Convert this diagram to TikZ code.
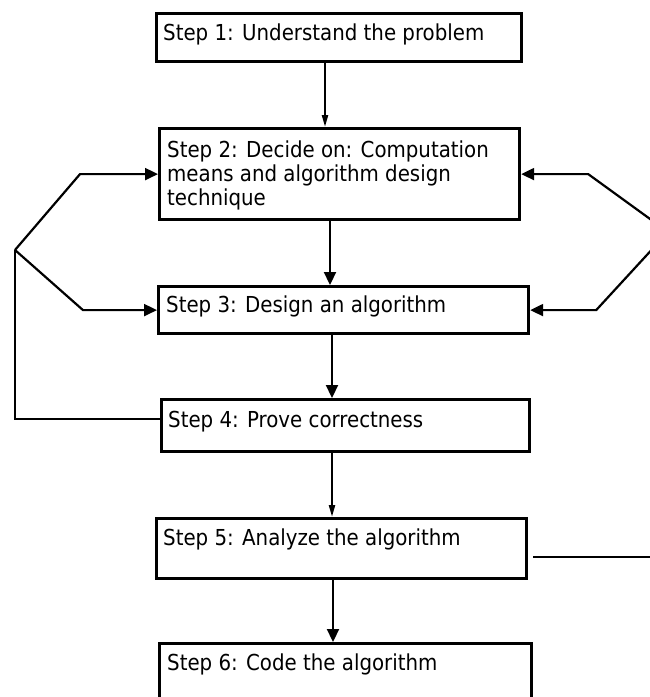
\documentclass[tikz,border=0pt]{standalone}
\usepackage{fontspec}
\setmainfont{DejaVu Sans Condensed}
\usetikzlibrary{arrows.meta}
\begin{document}
\begin{tikzpicture}[x=1pt,y=-1pt,
  box/.style={draw, line width=3.2pt, anchor=north west, inner sep=0pt},
  lbl/.style={anchor=base west, inner sep=0pt, font=\fontsize{22}{24}\selectfont, align=left},
  link/.style={line width=2.2pt},
  bigtip/.style={-{Triangle[width=12pt,length=13pt]}},
  smalltip/.style={-{Triangle[width=6pt,length=12pt]}},
]
\clip (0,0) rectangle (650,697);
\fill[white] (0,0) rectangle (650,697);

% step boxes
\node[box, minimum width=365pt, minimum height=48pt] (b1) at (155,12) {};
\node[box, minimum width=360pt, minimum height=91pt] (b2) at (158,127) {};
\node[box, minimum width=370pt, minimum height=47pt] (b3) at (157,285) {};
\node[box, minimum width=368pt, minimum height=52pt] (b4) at (160,398) {};
\node[box, minimum width=370pt, minimum height=60pt] (b5) at (155,517) {};
\node[box, minimum width=372pt, minimum height=80pt] (b6) at (158,642) {};

% step texts (a multi-line label sits on its last baseline)
\node[lbl] (t1) at (163,40) {Step 1: Understand the problem};
\node[lbl] (t2) at (167,205) {Step 2: Decide on: Computation\\means and algorithm design\\technique};
\node[lbl] (t3) at (166,312) {Step 3: Design an algorithm};
\node[lbl] (t4) at (168,427) {Step 4: Prove correctness};
\node[lbl] (t5) at (163,545) {Step 5: Analyze the algorithm};
\node[lbl] (t6) at (167,670) {Step 6: Code the algorithm};

% main downward flow
\coordinate (ax1) at (325,0);
\coordinate (ax2) at (330,0);
\coordinate (ax3) at (332,0);
\coordinate (ax4) at (332,0);
\coordinate (ax5) at (333,0);
\draw[link, smalltip] (b1.south -| ax1) -- (b2.north -| ax1);
\draw[link, bigtip] (b2.south -| ax2) -- (b3.north -| ax2);
\draw[link, bigtip] (b3.south -| ax3) -- (b4.north -| ax3);
\draw[link, smalltip] (b4.south -| ax4) -- (b5.north -| ax4);
\draw[link, bigtip] (b5.south -| ax5) -- (b6.north -| ax5);

% feedback from step 4 on the left
\coordinate (lv) at (15,250);
\path (b2.west) ++(-78,0) coordinate (lu);
\path (b3.west) ++(-74,0) coordinate (ll);
\draw[link] ([yshift=7pt]b4.west) -| (lv);
\draw[link, bigtip] (lv) -- (lu) -- (b2.west);
\draw[link, bigtip] (lv) -- (ll) -- (b3.west);

% feedback on the right
\coordinate (rv) at (668,232);
\path (b2.east) ++(67,0) coordinate (ru);
\path (b3.east) ++(66,0) coordinate (rl);
\draw[link, bigtip] (rv) -- (ru) -- (b2.east);
\draw[link, bigtip] (rv) -- (rl) -- (b3.east);

% outgoing line from step 5
\path ([xshift=5pt,yshift=-8pt]b5.east) coordinate (r5s) ++(130,0) coordinate (r5);
\draw[link] (r5s) -- (r5);
\end{tikzpicture}
\end{document}
